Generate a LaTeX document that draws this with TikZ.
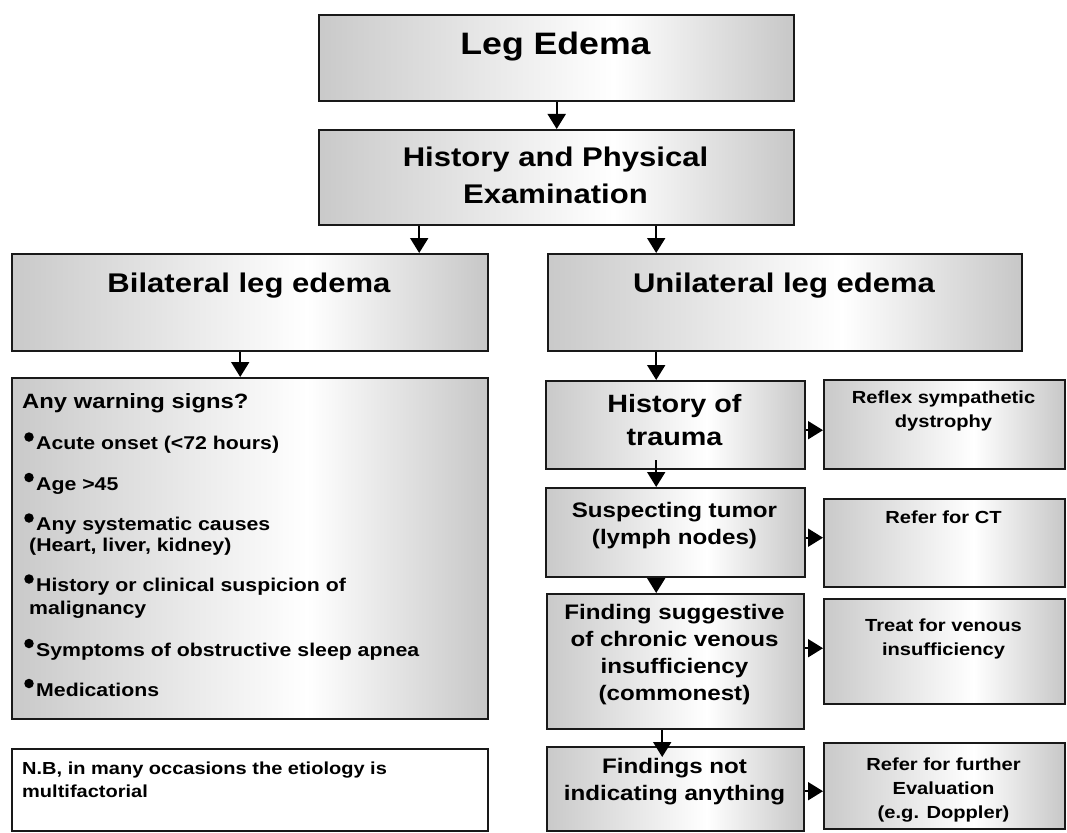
\documentclass[tikz,border=0pt]{standalone}
\usepackage{fontspec}
\setmainfont{Liberation Sans}[FakeStretch=1.15]
\usetikzlibrary{arrows.meta}
\pgfdeclarehorizontalshading{boxshade}{100bp}{color(0bp)=(black!21); color(25bp)=(black!21); color(56bp)=(white); color(75bp)=(black!22); color(100bp)=(black!22)}
\newcommand{\ml}[1]{\begin{tabular}[t]{@{}c@{}}#1\end{tabular}}
\newcommand{\fs}[2]{\fontsize{#1}{#2}\selectfont}
\begin{document}
\begin{tikzpicture}[x=1pt,y=-1pt,
  box/.style={draw=black!90, line width=2.4pt, shading=boxshade, anchor=north west, inner sep=0pt},
  plainbox/.style={draw=black!90, line width=2.4pt, fill=white, anchor=north west, inner sep=0pt},
  lbl/.style={inner sep=0pt, anchor=base},
  lleft/.style={inner sep=0pt, anchor=base west},
  fTitle/.style={font=\bfseries\fs{31}{36}},
  fHead/.style={font=\bfseries\fs{27}{37}},
  fTrauma/.style={font=\bfseries\fs{25}{33}},
  fMid/.style={font=\bfseries\fs{21}{27}},
  fSmall/.style={font=\bfseries\fs{17.5}{24}},
  fWarn/.style={font=\bfseries\fs{20.7}{25}},
  fList/.style={font=\bfseries\fs{18.5}{23}},
  fNB/.style={font=\bfseries\fs{17.4}{23.5}},
  dot/.style={circle, fill=black, inner sep=0pt, minimum size=9.5pt},
  arr/.style={line width=1.9pt, draw=black, -{Triangle[width=18pt,length=15pt]}}
]
\useasboundingbox (0,0) rectangle (1067,832);

% boxes
\node[box, minimum width=475pt, minimum height=86pt] (top) at (318,14) {};
\node[box, minimum width=475pt, minimum height=95pt] (hp) at (318,129) {};
\node[box, minimum width=476pt, minimum height=97pt] (bil) at (11,253) {};
\node[box, minimum width=474pt, minimum height=97pt] (uni) at (547,253) {};
\node[box, minimum width=476pt, minimum height=341pt] (warn) at (11,377) {};
\node[plainbox, minimum width=476pt, minimum height=82pt] (nb) at (11,748) {};
\node[box, minimum width=259pt, minimum height=88pt] (trauma) at (545,380) {};
\node[box, minimum width=241pt, minimum height=89pt] (reflex) at (823,379) {};
\node[box, minimum width=259pt, minimum height=89pt] (tumor) at (545,487) {};
\node[box, minimum width=241pt, minimum height=88pt] (ct) at (823,498) {};
\node[box, minimum width=257pt, minimum height=135pt] (finding) at (546,593) {};
\node[box, minimum width=241pt, minimum height=105pt] (treat) at (823,598) {};
\node[box, minimum width=257pt, minimum height=84pt] (fnot) at (546,746) {};
\node[box, minimum width=241pt, minimum height=86pt] (further) at (823,742) {};

% texts
\node[lbl, fTitle] (tTop) at (555.5,55) {Leg Edema};
\node[lbl, fHead] (tHP) at (555.5,166) {\ml{History and Physical\\Examination}};
\node[lbl, fHead] (tBil) at (249,292) {Bilateral leg edema};
\node[lbl, fHead] (tUni) at (784,292) {Unilateral leg edema};
\node[lbl, fTrauma] (tTrauma) at (674.5,412) {\ml{History of\\trauma}};
\node[lbl, fSmall] (tReflex) at (943.5,403) {\ml{Reflex sympathetic\\dystrophy}};
\node[lbl, fMid] (tTumor) at (674.5,517) {\ml{Suspecting tumor\\(lymph nodes)}};
\node[lbl, fSmall] (tCT) at (943.5,523.5) {Refer for CT};
\node[lbl, fMid] (tFinding) at (674.5,619) {\ml{Finding suggestive\\of chronic venous\\insufficiency\\(commonest)}};
\node[lbl, fSmall] (tTreat) at (943.5,631) {\ml{Treat for venous\\insufficiency}};
\node[lbl, fMid] (tFnot) at (674.5,773) {\ml{Findings not\\indicating anything}};
\node[lbl, fSmall] (tFurther) at (943.5,770) {\ml{Refer for further\\Evaluation\\(e.g. Doppler)}};

% warning list
\node[lleft, fWarn] (w0) at (22,408.5) {Any warning signs?};
\node[dot] (d1) at (29,437) {};
\node[lleft, fList] (w1) at (36,449.5) {Acute onset (<72 hours)};
\node[dot] (d2) at (29,477.5) {};
\node[lleft, fList] (w2) at (36,490) {Age >45};
\node[dot] (d3) at (29,518) {};
\node[lleft, fList] (w3) at (36,530.5) {Any systematic causes};
\node[lleft, fList] (w3b) at (29,551) {(Heart, liver, kidney)};
\node[dot] (d4) at (29,579) {};
\node[lleft, fList] (w4) at (36,591.5) {History or clinical suspicion of};
\node[lleft, fList] (w4b) at (29,614.5) {malignancy};
\node[dot] (d5) at (29,643.5) {};
\node[lleft, fList] (w5) at (36,656) {Symptoms of obstructive sleep apnea};
\node[dot] (d6) at (29,683.5) {};
\node[lleft, fList] (w6) at (36,696) {Medications};

\node[lleft, fNB] (nb1) at (22,774) {N.B, in many occasions the etiology is};
\node[lleft, fNB] (nb2) at (22,797.5) {multifactorial};

% connectors
\draw[arr] (top.south) -- (hp.north);
\coordinate (hpL) at ([xshift=-137.5pt]hp.south);
\coordinate (hpR) at ([xshift=99.5pt]hp.south);
\draw[arr] (hpL) -- (hpL |- bil.north);
\draw[arr] (hpR) -- (hpR |- uni.north);
\coordinate (bilB) at ([xshift=-10pt]bil.south);
\draw[arr] (bilB) -- (bilB |- warn.north);
\coordinate (uniB) at ([xshift=-129pt]uni.south);
\draw[arr] (uniB) -- (uniB |- trauma.north);
\coordinate (trB) at ([xshift=-19.5pt]trauma.south);
\draw[arr, shorten <=-10pt] (trB) -- (trB |- tumor.north);
\coordinate (tuB) at ([xshift=-19.5pt]tumor.south);
\draw[arr] (tuB) -- (tuB |- finding.north);
\coordinate (fiB) at ([xshift=-13.5pt]finding.south);
\draw[arr, shorten >=-11pt] (fiB) -- (fiB |- fnot.north);

\coordinate (trE) at ([yshift=-5pt]trauma.east);
\draw[arr] (trE) -- (trE -| reflex.west);
\coordinate (tuE) at ([yshift=-5pt]tumor.east);
\draw[arr] (tuE) -- (tuE -| ct.west);
\coordinate (fiE) at ([yshift=13.5pt]finding.east);
\draw[arr] (fiE) -- (fiE -| treat.west);
\coordinate (fnE) at ([yshift=-2pt]fnot.east);
\draw[arr] (fnE) -- (fnE -| further.west);
\end{tikzpicture}
\end{document}
